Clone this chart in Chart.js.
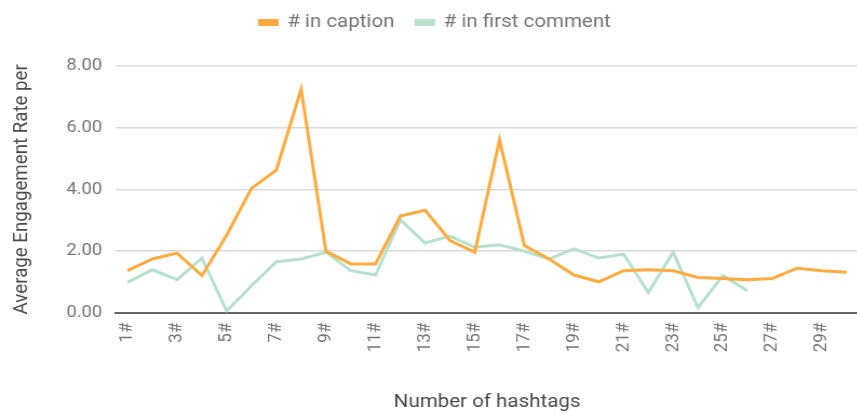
<!DOCTYPE html>
<html>
<head>
<meta charset="utf-8">
<script src="https://cdn.jsdelivr.net/npm/chart.js@4"></script>
<style>
html,body{margin:0;padding:0;background:#fff;overflow:hidden;width:857px;height:414px;}
#wrap{width:797px;height:414px;position:relative;transform:scaleX(1.08);transform-origin:0 0;}
</style>
</head>
<body>
<div id="wrap"><canvas id="c"></canvas></div>
<script>
const categories = ["1#","2#","3#","4#","5#","6#","7#","8#","9#","10#","11#","12#","13#","14#","15#","16#","17#","18#","19#","20#","21#","22#","23#","24#","25#","26#","27#","28#","29#","30#"];
const inCaption = [1.36,1.74,1.93,1.20,2.52,4.03,4.62,7.25,1.99,1.58,1.58,3.13,3.32,2.34,1.96,5.60,2.18,1.74,1.22,1.00,1.36,1.39,1.36,1.14,1.11,1.07,1.11,1.44,1.36,1.31];
const inFirstComment = [0.98,1.39,1.07,1.77,0.05,0.87,1.65,1.74,1.96,1.36,1.22,3.01,2.26,2.48,2.12,2.20,1.99,1.74,2.07,1.77,1.90,0.65,1.96,0.16,1.20,0.71];
const yTicks = [0,2,4,6,8];

const FONT = "Roboto, 'Noto Sans', sans-serif";

const legendHeight = {
  id: 'legendHeight',
  beforeInit(chart) {
    const origFit = chart.legend.fit;
    chart.legend.fit = function() {
      origFit.call(this);
      this.height = 73;
    };
  }
};

new Chart(document.getElementById('c'), {
  type: 'line',
  data: {
    labels: categories,
    datasets: [
      {label: '# in caption', data: inCaption, borderColor: '#FFAB40', backgroundColor: '#FFAB40', borderWidth: 3, pointRadius: 0, tension: 0},
      {label: '# in first comment', data: inFirstComment, borderColor: '#B7E1CD', backgroundColor: '#B7E1CD', borderWidth: 3, pointRadius: 0, tension: 0}
    ]
  },
  plugins: [legendHeight],
  options: {
    responsive: true,
    maintainAspectRatio: false,
    animation: false,
    layout: {padding: {left: 9, right: 0, top: -7, bottom: 0}},
    plugins: {
      tooltip: {enabled: false},
      legend: {
        position: 'top',
        labels: {boxWidth: 16, boxHeight: 4, color: '#757575', font: {family: FONT, size: 19}, padding: 20}
      }
    },
    scales: {
      x: {
        type: 'category',
        offset: true,
        grid: {display: false, drawTicks: false},
        border: {display: true, color: '#666666', width: 2},
        afterFit: function(s){ s.paddingLeft = 0; s.paddingRight = 0; },
        ticks: {
          color: '#757575', font: {family: FONT, size: 17}, maxRotation: 90, minRotation: 90, autoSkip: false, padding: 10,
          callback: function(v, i){ return i % 2 === 0 ? categories[i] : ''; }
        },
        title: {display: true, text: 'Number of hashtags', color: '#4a4a4a', font: {family: FONT, size: 19}, padding: {top: 29, bottom: 0}}
      },
      y: {
        min: 0, max: 8,
        afterBuildTicks: function(s){ s.ticks = yTicks.map(v => ({value: v})); },
        grid: {color: '#dadada', lineWidth: 1.5, drawTicks: false},
        border: {display: false},
        ticks: {color: '#757575', font: {family: FONT, size: 17}, padding: 12, callback: v => Number(v).toFixed(2)},
        title: {display: true, text: 'Average Engagement Rate per', color: '#4a4a4a', font: {family: FONT, size: 18.7}, padding: {top: 0, bottom: 18}}
      }
    }
  }
});
</script>
</body>
</html>
